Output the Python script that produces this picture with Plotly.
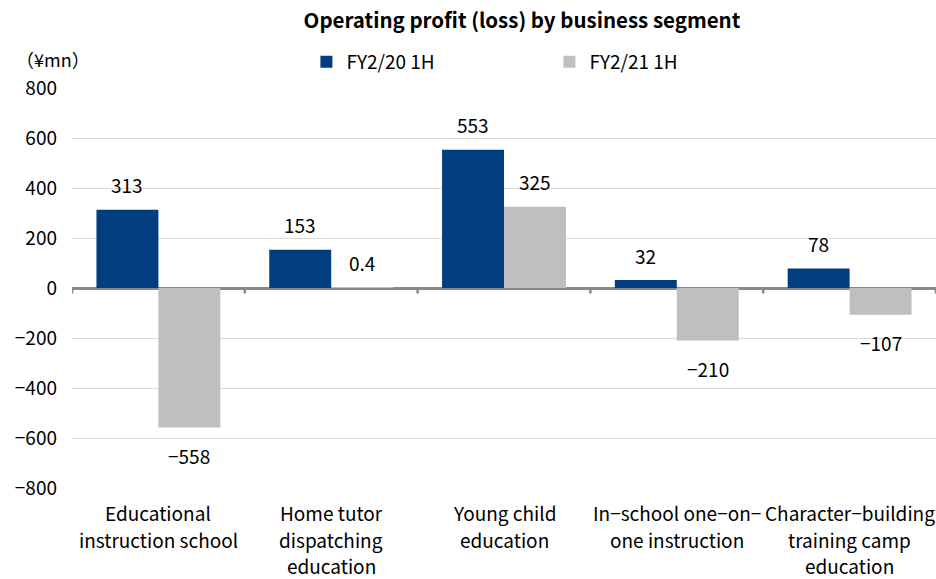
import plotly.graph_objects as go

categories = [
    "Educational<br>instruction school",
    "Home tutor<br>dispatching<br>education",
    "Young child<br>education",
    "In−school one−on−<br>one instruction",
    "Character−building<br>training camp<br>education",
]
fy20 = [313, 153, 553, 32, 78]
fy21 = [-558, 0.4, 325, -210, -107]
series_names = ["FY2/20 1H", "FY2/21 1H"]
y_ticks = [-800, -600, -400, -200, 0, 200, 400, 600, 800]

BLUE = "#013E80"
GRAY = "#BFBFBF"
FONT = "Noto Sans CJK JP"

idx = list(range(len(categories)))

def fmt(v):
    s = f"{v:g}"
    return s.replace("-", "\u2212")

fig = go.Figure()
fig.add_trace(go.Bar(x=idx, y=fy20, name=series_names[0], marker_color=BLUE,
                     marker_line_width=0))
fig.add_trace(go.Bar(x=idx, y=fy21, name=series_names[1], marker_color=GRAY,
                     marker_line_width=0))

bargap = 0.283
plot_w = 864
cat_w = plot_w / len(categories)
bar_w = cat_w * (1 - bargap) / 2

annotations = []
for series, sh in ((fy20, -bar_w / 2), (fy21, bar_w / 2)):
    for i, v in zip(idx, series):
        annotations.append(dict(
            x=i, y=v, xref="x", yref="y", text=fmt(v), showarrow=False,
            xshift=sh, yshift=25 if v >= 0 else -28,
            font=dict(family=FONT, size=19, color="#000000"),
        ))

# category labels, one annotation per line for Excel-like line spacing
for i, label in zip(idx, categories):
    for k, line in enumerate(label.split("<br>")):
        annotations.append(dict(
            x=i, y=0, xref="x", yref="paper", text=line, showarrow=False,
            xanchor="center", yanchor="middle", yshift=-24.5 - 26.5 * k,
            borderpad=0,
            font=dict(family=FONT, size=19, color="#000000"),
        ))

annotations.append(dict(
    x=-58 / 864, y=1.072, xref="paper", yref="paper", xanchor="left",
    yanchor="middle", text="（¥mn）", showarrow=False,
    font=dict(family=FONT, size=18, color="#000000"),
))

shapes = []
for b in [i - 0.5 for i in idx] + [idx[-1] + 0.5]:
    shapes.append(dict(type="line", xref="x", yref="y", x0=b, x1=b, y0=0, y1=-22,
                       line=dict(color="#898989", width=2.5)))

fig.update_layout(
    width=936, height=579,
    margin=dict(l=72, r=0, t=88, b=91),
    paper_bgcolor="white", plot_bgcolor="white",
    barmode="group", bargap=bargap, bargroupgap=0,
    font=dict(family=FONT, size=19, color="#000000"),
    title=dict(text="<b>Operating profit (loss) by business segment</b>",
               x=522 / 936, xanchor="center", y=1 - 21 / 579, yanchor="middle",
               font=dict(family=FONT, size=20.5, color="#000000")),
    legend=dict(orientation="h", x=0.2713, xanchor="left", y=1.065, yanchor="middle",
                entrywidth=198, entrywidthmode="pixels",
                font=dict(family=FONT, size=19, color="#000000"),
                bgcolor="rgba(0,0,0,0)", itemsizing="constant"),
    xaxis=dict(tickmode="array", tickvals=idx, showticklabels=False,
               range=[-0.5, len(categories) - 0.5], showgrid=False, zeroline=False,
               showline=False, ticks=""),
    yaxis=dict(range=[-800, 800], tickvals=y_ticks, showgrid=True,
               gridcolor="#D9D9D9", gridwidth=1, zeroline=True,
               zerolinecolor="#898989", zerolinewidth=2.5, showline=False,
               ticks="", ticklabelstandoff=14,
               tickfont=dict(family=FONT, size=19, color="#000000")),
    annotations=annotations, shapes=shapes,
)

fig.write_html("out.html")
